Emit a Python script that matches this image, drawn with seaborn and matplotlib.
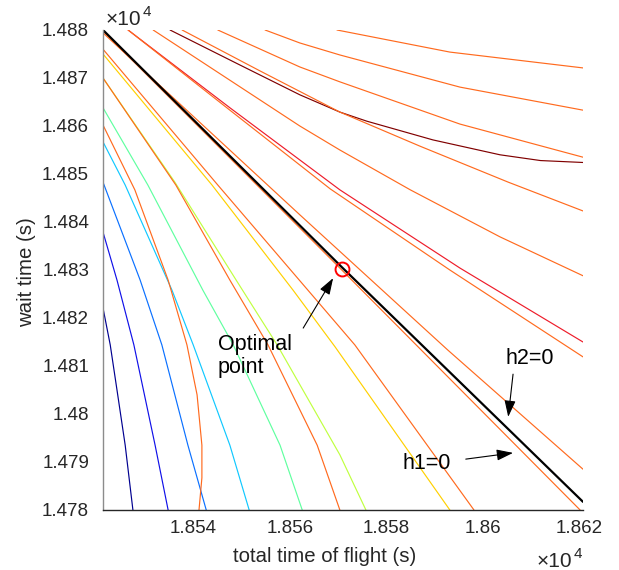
import matplotlib
matplotlib.use('Agg')
import matplotlib.pyplot as plt
import seaborn as sns
from matplotlib.ticker import FuncFormatter, MultipleLocator

# ---------------- data (seconds) ----------------
# jet-coloured objective contours
j1_x = [18521.3, 18522.8, 18524.2, 18525.9, 18527.5]
j1_y = [14822.1, 14814.4, 14805.0, 14793.5, 14780.0]
j2_x = [18521.3, 18524.2, 18527.7, 18532.1, 18534.8]
j2_y = [14837.9, 14827.9, 14814.4, 14793.5, 14780.0]
j3_x = [18521.3, 18529.0, 18533.5, 18538.9, 18542.7]
j3_y = [14848.3, 14827.9, 14814.4, 14793.5, 14780.0]
j4_x = [18521.3, 18525.9, 18535.6, 18540.0, 18547.6, 18551.6]
j4_y = [14856.7, 14847.7, 14825.8, 14814.4, 14793.5, 14780.0]
j5_x = [18521.3, 18530.6, 18542.0, 18548.3, 18558.0, 18562.6]
j5_y = [14863.8, 14847.7, 14825.8, 14814.4, 14793.5, 14780.0]
j6_x = [18521.3, 18536.2, 18548.9, 18557.4, 18570.4, 18575.8]
j6_y = [14870.0, 14848.3, 14827.9, 14814.4, 14791.5, 14780.0]
j7_x = [18521.3, 18543.9, 18560.7, 18569.4, 18593.2]
j7_y = [14875.0, 14847.7, 14825.8, 14814.0, 14780.0]
red_x = [18526.5, 18547.6, 18570.4, 18595.3, 18620.8]
red_y = [14880.0, 14863.8, 14846.7, 14830.4, 14815.0]
maroon_x = [18535.2, 18549.7, 18562.1, 18570.4, 18576.0, 18589.7, 18603.6, 18612.0, 18620.8]
maroon_y = [14880.0, 14872.7, 14866.5, 14862.9, 14861.0, 14857.1, 14854.0, 14852.8, 14852.4]

# orange constraint contours
oa_x = [18569.8, 18593.2, 18620.8]
oa_y = [14880.0, 14875.4, 14872.1]
ob_x = [18554.9, 18562.1, 18570.4, 18595.3, 18620.8]
ob_y = [14880.0, 14877.3, 14874.8, 14868.1, 14863.3]
oc_x = [18545.1, 18562.1, 18570.4, 18595.3, 18620.8]
oc_y = [14880.0, 14872.3, 14869.2, 14860.4, 14853.5]
od_x = [18537.7, 18553.8, 18570.4, 18587.0, 18605.3, 18620.8]
od_y = [14880.0, 14871.5, 14862.9, 14855.8, 14848.3, 14842.3]
oe_x = [18531.7, 18562.1, 18570.4, 18585.0, 18603.6, 18620.8]
oe_y = [14880.0, 14860.0, 14855.0, 14846.7, 14836.9, 14828.8]
of_x = [18526.5, 18547.6, 18568.4, 18593.2, 18620.8]
of_y = [14880.0, 14863.3, 14846.9, 14830.0, 14811.9]
h2_x = [18521.3, 18562.1, 18592.8, 18620.8]
h2_y = [14879.4, 14841.5, 14813.3, 14788.5]
oh_x = [18521.3, 18570.8, 18620.2]
oh_y = [14879.8, 14830.0, 14780.0]
oi_x = [18521.3, 18545.1, 18573.5, 18598.2]
oi_y = [14876.0, 14847.7, 14814.4, 14780.0]
oj_x = [18521.3, 18536.4, 18547.6, 18555.5, 18565.7, 18570.4]
oj_y = [14870.0, 14847.7, 14827.9, 14814.4, 14793.5, 14780.0]
ok_x = [18521.3, 18527.9, 18534.8, 18538.7, 18540.8, 18541.8, 18541.8, 18541.2]
ok_y = [14860.2, 14846.7, 14827.9, 14814.4, 14804.0, 14793.5, 14786.7, 14780.0]

# h1 = 0 (black)
h1_x = [18521.3, 18570.8, 18620.8]
h1_y = [14880.0, 14830.6, 14781.7]

# optimal point
opt_x = [18570.8]
opt_y = [14830.3]

# ---------------- style ----------------
sns.set_style('white')
plt.rcParams['font.family'] = ['Liberation Sans', 'DejaVu Sans']

ORANGE = '#FF6A1E'
TXT = '#262626'
fig = plt.figure(figsize=(6.19, 5.70), dpi=100)
ax = fig.add_axes([103 / 619, 60 / 570, 480 / 619, 480 / 570])

jet_lines = [
    (j1_x, j1_y, '#000090'), (j2_x, j2_y, '#1010E8'), (j3_x, j3_y, '#0A70FF'),
    (j4_x, j4_y, '#10C8FF'), (j5_x, j5_y, '#60FFA0'), (j6_x, j6_y, '#C0FF40'),
    (j7_x, j7_y, '#FFD000'), (red_x, red_y, '#EE1C2A'), (maroon_x, maroon_y, '#800000'),
]
for xs, ys, c in jet_lines:
    sns.lineplot(x=xs, y=ys, sort=False, estimator=None, color=c, linewidth=0.85, ax=ax)

orange_lines = [(oa_x, oa_y), (ob_x, ob_y), (oc_x, oc_y), (od_x, od_y), (oe_x, oe_y),
                (of_x, of_y), (h2_x, h2_y), (oh_x, oh_y), (oi_x, oi_y), (oj_x, oj_y),
                (ok_x, ok_y)]
for xs, ys in orange_lines:
    sns.lineplot(x=xs, y=ys, sort=False, estimator=None, color=ORANGE, linewidth=0.85, ax=ax)

sns.lineplot(x=h1_x, y=h1_y, sort=False, estimator=None, color='black', linewidth=1.6, ax=ax)

ax.plot(opt_x, opt_y, marker='o', linestyle='none', markersize=10, markerfacecolor='none',
        markeredgecolor='red', markeredgewidth=1.4)

ax.set_xlim(18521.3, 18620.8)
ax.set_ylim(14780, 14880)
ax.xaxis.set_major_locator(MultipleLocator(20))
ax.yaxis.set_major_locator(MultipleLocator(10))
fmt = FuncFormatter(lambda v, p: f'{v / 1e4:g}')
ax.xaxis.set_major_formatter(fmt)
ax.yaxis.set_major_formatter(fmt)

for s in ['top', 'right']:
    ax.spines[s].set_visible(False)
ax.spines['left'].set_color('#8C8C8C')
ax.spines['bottom'].set_color(TXT)
for s in ['left', 'bottom']:
    ax.spines[s].set_linewidth(1.0)
ax.tick_params(direction='in', length=5, width=0.8, labelsize=13.5, labelcolor=TXT)
ax.tick_params(axis='y', color='#8C8C8C', pad=10)
ax.tick_params(axis='x', color=TXT, pad=7)

ax.set_xlabel('total time of flight (s)', fontsize=14.7, color=TXT)
ax.set_ylabel('wait time (s)', fontsize=14.7, color=TXT)
ax.xaxis.set_label_coords(0.4625, -0.096)
ax.xaxis.label.set_va('center')
ax.yaxis.set_label_coords(-0.160, 0.496)
ax.yaxis.label.set_va('center')

# x10^4 exponent labels
for (ex, ey) in [(0.00625, 1.0104), (0.904, -0.119)]:
    t = ax.text(ex, ey, '\u00d710', transform=ax.transAxes, fontsize=15, color=TXT,
                ha='left', va='baseline')
    ax.annotate('4', xy=(1, 0), xycoords=t, xytext=(0.5, 9.2), textcoords='offset points',
                fontsize=11, color=TXT, ha='left', va='baseline')

aprops = dict(arrowstyle='-|>,head_length=0.5,head_width=0.17', color='black', lw=0.8,
              mutation_scale=20, shrinkA=0, shrinkB=0)
ax.annotate('', xy=(18569.0, 14828.3), xytext=(18562.8, 14817.9), arrowprops=aprops)
ax.annotate('', xy=(18605.3, 14799.4), xytext=(18606.3, 14808.3), arrowprops=aprops)
ax.annotate('', xy=(18606.3, 14791.9), xytext=(18596.5, 14790.6), arrowprops=aprops)
ax.text(18545.1, 14812.1, 'Optimal\npoint', fontsize=15.5, ha='left', va='center',
        linespacing=1.1, color='black')
ax.text(18609.8, 14811.5, 'h2=0', fontsize=15.5, ha='center', va='center', color='black')
ax.text(18588.5, 14789.6, 'h1=0', fontsize=15.5, ha='center', va='center', color='black')

fig.savefig('out.png', dpi=100)
